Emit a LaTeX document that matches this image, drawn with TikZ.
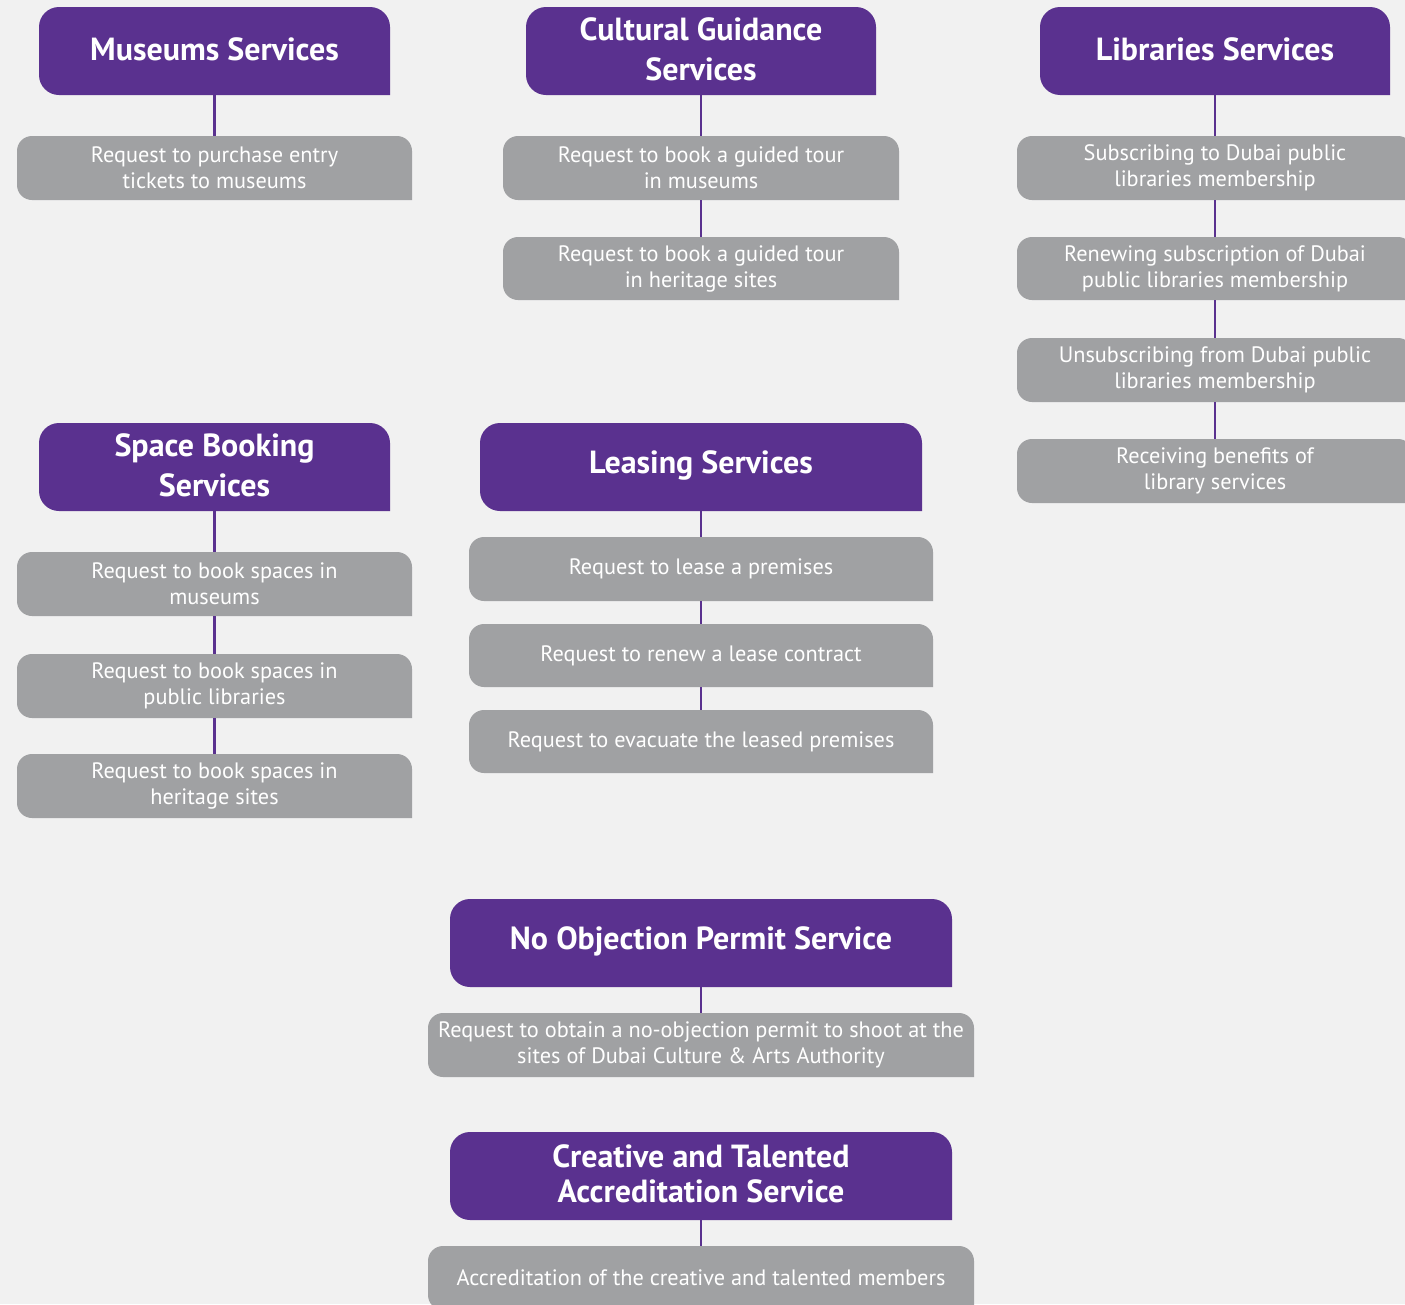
\documentclass[tikz,border=0pt]{standalone}
\usepackage{fontspec}
\setmainfont{PT Sans}
\definecolor{purp}{HTML}{5A318F}
\definecolor{grayb}{HTML}{A0A1A3}
\definecolor{bgc}{HTML}{F1F1F1}
\tikzset{
  headtext/.style={text=white, font=\bfseries\fontsize{32}{40}\selectfont, align=center, inner sep=0pt, yshift=2pt},
  headtight/.style={font=\bfseries\fontsize{32}{35}\selectfont},
  subtext/.style={text=white, font=\fontsize{22.3}{26}\selectfont, align=center, inner sep=0pt},
  link/.style={draw=purp, line width=2.5pt}
}
\newcommand\purplebox[7][]{%
  \fill[purp] (#5,#6) [rounded corners=20pt] -- (#3,#6) -- (#3,#4) -- (#5,#4) [sharp corners] -- (#5,#6);
  \node[headtext, minimum width={(#5-#3)*1pt}, minimum height={(#6-#4)*1pt}, #1] (#2) at ({(#3+#5)/2},{(#4+#6)/2}) {#7};}
\newcommand\graybox[6]{%
  \fill[grayb] (#4,#5) [rounded corners=15pt] -- (#2,#5) -- (#2,#3) -- (#4,#3) [sharp corners] -- (#4,#5);
  \node[subtext, minimum width={(#4-#2)*1pt}, minimum height={(#5-#3)*1pt}] (#1) at ({(#2+#4)/2},{(#3+#5)/2}) {#6};}
\begin{document}
\begin{tikzpicture}[x=1pt,y=-1pt]
\fill[bgc] (0,0) rectangle (1405,1304);
\useasboundingbox (0,0) rectangle (1405,1304);
% Museums
\purplebox{mus}{39}{7}{390}{95}{Museums Services}
\graybox{mus1}{17}{136}{412}{200}{Request to purchase entry\\tickets to museums}
% Cultural
\purplebox{cul}{526}{7}{876}{95}{Cultural Guidance\\Services}
\graybox{cul1}{503}{136}{899}{200}{Request to book a guided tour\\in museums}
\graybox{cul2}{503}{237}{899}{300}{Request to book a guided tour\\in heritage sites}
% Libraries
\purplebox{lib}{1040}{7}{1390}{95}{Libraries Services}
\graybox{lib1}{1017}{136}{1413}{200}{Subscribing to Dubai public\\libraries membership}
\graybox{lib2}{1017}{237}{1413}{300}{Renewing subscription of Dubai\\public libraries membership}
\graybox{lib3}{1017}{338}{1413}{402}{Unsubscribing from Dubai public\\libraries membership}
\graybox{lib4}{1017}{439}{1413}{503}{Receiving benefits of\\library services}
% Space booking
\purplebox{spa}{39}{423}{390}{511}{Space Booking\\Services}
\graybox{spa1}{17}{552}{412}{616}{Request to book spaces in\\museums}
\graybox{spa2}{17}{654}{412}{718}{Request to book spaces in\\public libraries}
\graybox{spa3}{17}{754}{412}{818}{Request to book spaces in\\heritage sites}
% Leasing
\purplebox{lea}{480}{423}{922}{511}{Leasing Services}
\graybox{lea1}{469}{537}{933}{601}{Request to lease a premises}
\graybox{lea2}{469}{624}{933}{687}{Request to renew a lease contract}
\graybox{lea3}{469}{710}{933}{773}{Request to evacuate the leased premises}
% No objection
\purplebox{noc}{450}{899}{952}{987}{No Objection Permit Service}
\graybox{noc1}{428}{1013}{974}{1077}{Request to obtain a no-objection permit to shoot at the\\sites of Dubai Culture \& Arts Authority}
% Creative
\purplebox[headtight]{cre}{450}{1132}{952}{1220}{Creative and Talented\\Accreditation Service}
\graybox{cre1}{428}{1246}{974}{1310}{Accreditation of the creative and talented members}
% connectors
\draw[link] (mus.south) -- (mus1.north);
\draw[link] (cul.south) -- (cul1.north);
\draw[link] (cul1.south) -- (cul2.north);
\draw[link] (lib.south) -- (lib1.north);
\draw[link] (lib1.south) -- (lib2.north);
\draw[link] (lib2.south) -- (lib3.north);
\draw[link] (lib3.south) -- (lib4.north);
\draw[link] (spa.south) -- (spa1.north);
\draw[link] (spa1.south) -- (spa2.north);
\draw[link] (spa2.south) -- (spa3.north);
\draw[link] (lea.south) -- (lea1.north);
\draw[link] (lea1.south) -- (lea2.north);
\draw[link] (lea2.south) -- (lea3.north);
\draw[link] (noc.south) -- (noc1.north);
\draw[link] (cre.south) -- (cre1.north);
\end{tikzpicture}
\end{document}
